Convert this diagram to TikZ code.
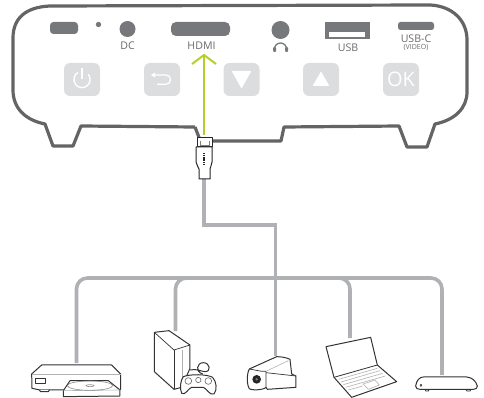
\documentclass[tikz,border=0pt]{standalone}
\usepackage{fontspec}
\setmainfont{Open Sans}
\usetikzlibrary{arrows.meta,calc}
\definecolor{outl}{HTML}{636466}
\definecolor{port}{HTML}{77787B}
\definecolor{btn}{HTML}{DCDDDE}
\definecolor{cable}{HTML}{B0B1B4}
\definecolor{lime}{HTML}{B5CF2A}
\definecolor{lab}{HTML}{6A6B6E}
\tikzset{
  shell/.style={draw=outl,line width=3.2pt,line join=round},
  portshape/.style={fill=port,draw=none},
  btnbox/.style={fill=btn,rounded corners=6pt,draw=none,minimum width=36pt,minimum height=33pt,inner sep=0},
  wire/.style={draw=cable,line width=3.6pt},
  lbl/.style={text=lab,font=\fontsize{10.6}{10.6}\selectfont,inner sep=0},
  ico/.style={draw=black!80,line width=1pt,line join=round,fill=white},
  thin ico/.style={draw=black!30,line width=.6pt},
  zoomA/.style={shift={(20,300)},x=.3333pt,y=-.3333pt},
  zoomB/.style={shift={(240,300)},x=.3333pt,y=-.3333pt},
}
\begin{document}
\begin{tikzpicture}[x=1pt,y=-1pt]
\useasboundingbox (0,0) rectangle (484,398);
% projector shell
\draw[shell] (195,127) -- (81,126) -- (73,146) -- (53,146) -- (45,124)
  .. controls (25,120) and (13,108) .. (13,90) -- (13,38)
  .. controls (13,18) and (26,7) .. (50,6) -- (430,5)
  .. controls (452,6) and (467,20) .. (467,40) -- (467,92)
  .. controls (467,108) and (455,120) .. (435,124) -- (427,147) -- (407,147) -- (399,126) -- (284,127) -- (281,141) -- (212,141);
\draw[shell] (195,127) -- (200,140);
% ports
\fill[portshape,rounded corners=3.5pt] (50,22) rectangle (78,34);
\fill[portshape] (98.5,24.5) circle (2.7);
\fill[portshape] (127.5,29) circle (8);
\fill[portshape,rounded corners=5pt] (171,22) rectangle (230,36);
\fill[portshape] (280.5,30) circle (9);
\fill[portshape] (325,22) rectangle (370,39);
\fill[white] (329,32) rectangle (365,37);
\fill[portshape,rounded corners=2.5pt] (398,22) rectangle (434,30);
% headphone icon
\draw[port,line width=1.3pt] (274.5,49) arc[start angle=180,end angle=360,radius=6];
\fill[port,rounded corners=1pt] (273,47) rectangle (276,52);
\fill[port,rounded corners=1pt] (285,47) rectangle (288,52);
% port labels
\node[lbl] (dc) at (127.5,45.5) {DC};
\node[lbl] (hdmi) at (201.5,45.5) {HDMI};
\node[lbl] (usb) at (348,48) {USB};
\node[lbl] (usbc) at (416,39) {USB-C};
\node[lbl,font=\fontsize{7}{7}\selectfont] (video) at (416,47.5) {(VIDEO)};
% buttons
\node[btnbox] (power) at (82,79.5) {};
\node[btnbox] (back) at (162,79.5) {};
\node[btnbox] (down) at (241.5,79.5) {};
\node[btnbox] (up) at (321,79.5) {};
\node[btnbox] (ok) at (401,79.5) {\textcolor{white}{\fontsize{20}{20}\selectfont OK}};
\draw[white,line width=1.4pt] ($(power)+(6.2,-5.2)$) arc[start angle=-40,delta angle=280,radius=8.1];
\draw[white,line width=1.4pt] ($(power)+(0,-11)$) -- ($(power)+(0,0)$);
\draw[white,line width=1.3pt,line join=round] ($(back)+(-8,-4.5)$) -- ($(back)+(4,-4.5)$) arc[start angle=-90,end angle=90,radius=4.6] -- ($(back)+(-5,4.7)$);
\fill[white] ($(back)+(-11,-4.5)$) -- ($(back)+(-7,-7)$) -- ($(back)+(-7,-2)$) -- cycle;
\fill[white,draw=white,line width=1pt,line join=round] ($(down)+(-9,-8)$) -- ($(down)+(9,-8)$) -- ($(down)+(0,8)$) -- cycle;
\fill[white,draw=white,line width=1pt,line join=round] ($(up)+(-7.5,6)$) -- ($(up)+(7.5,6)$) -- ($(up)+(0,-7)$) -- cycle;
% HDMI plug and cables
\coordinate (plugtop) at (204,135);
\coordinate (plugbot) at (204,179);
\coordinate (elbowA) at (204,225);
\coordinate (elbowB) at (275.5,225);
\coordinate (hub) at (275.5,278);
\coordinate (d1) at (76.5,363);
\coordinate (d2) at (175.5,331);
\coordinate (d3) at (275.5,356);
\coordinate (d4) at (350,338);
\coordinate (d5) at (442,375);
\draw[wire] (plugbot) -- (elbowA) -- (elbowB) -- (hub);
\draw[wire,rounded corners=11pt] (d1) -- (76.5,278) -- (442,278) -- (d5);
\draw[wire,rounded corners=11pt] (d2) -- (175.5,278) -- (350,278) -- (d4);
\draw[wire] (hub) -- (d3);
\draw[lime,line width=2pt] (plugtop) -- (204,55);
\draw[lime,line width=2pt] (192,64) -- (204,55) -- (216,64);
\filldraw[fill=white,draw=black!85,line width=1pt,line join=round] (197.5,138) rectangle (212,147);
\filldraw[fill=white,draw=black!85,line width=1pt,line join=round] (196,147) -- (212,147) -- (212,162) .. controls (212,165) and (210,167) .. (210,169) -- (210,179) -- (199,179) -- (199,169) .. controls (199,167) and (196,165) .. (196,162) -- cycle;
\draw[black!85,line width=1.5pt,dash pattern=on 1.2pt off .6pt] (204,153) -- (204,165);
\fill[black!50] (200,141) rectangle (210,146);
\fill[white] (201,141) rectangle (209,145);
% DVD player
\begin{scope}[zoomA]
\draw[ico] (35,222) -- (65,195) -- (275,195) -- (302,222) -- (302,268) -- (240,270) -- (60,270) -- (36,265) -- cycle;
\draw[thin ico] (35,222) -- (302,222);
\draw[ico,line width=.7pt] (47,236) rectangle (75,250);
\draw[ico] (58,270) -- (62,275) -- (85,275) -- (88,270);
\draw[ico] (150,242) -- (265,242) -- (300,270) -- (300,288) -- (130,290) -- (130,272) -- cycle;
\draw[thin ico] (130,272) -- (300,270);
\draw[draw=black!45,line width=.6pt] (210,257) ellipse (68 and 14);
\draw[draw=black!45,line width=.6pt] (210,257) ellipse (12 and 3);
% Console
\draw[ico] (403,97) -- (447,92) -- (510,135) -- (510,205) -- (485,262) -- (462,268) -- (403,215) -- cycle;
\draw[ico,fill=none,line width=.7pt] (403,97) -- (462,150) -- (510,135);
\draw[ico,fill=none,line width=.8pt] (462,150) -- (462,268);
\draw[draw=black!30,line width=1.5pt] (487,150) -- (487,235);
\draw[ico,fill=none] (510,210) .. controls (530,205) and (545,215) .. (555,215) .. controls (575,215) and (570,188) .. (550,188) .. controls (530,188) and (525,215) .. (548,222);
\draw[ico] (490,230) .. controls (510,222) and (560,222) .. (578,232) .. controls (590,245) and (592,270) .. (582,282) .. controls (570,288) and (560,265) .. (550,262) -- (515,262) .. controls (505,265) and (495,288) .. (485,280) .. controls (478,265) and (482,240) .. (490,230) -- cycle;
\draw[thin ico,draw=black!60] (505,243) circle (10);
\draw[thin ico,draw=black!60] (565,243) circle (10);
\draw[thin ico,draw=black!60] (535,240) circle (8);
\end{scope}
% Camera, laptop, router
\begin{scope}[zoomB]
\draw[ico] (28,207) -- (110,170) .. controls (125,170) and (140,173) .. (150,178) -- (155,222) -- (168,228) -- (168,262) -- (82,268) -- (78,262) .. controls (72,270) and (35,272) .. (28,266) .. controls (20,255) and (20,220) .. (28,207) -- cycle;
\draw[ico,fill=none,line width=.7pt] (28,207) -- (65,214) -- (78,214) -- (78,262);
\draw[thin ico] (78,214) -- (145,182);
\draw[ico,line width=.7pt] (78,218) -- (168,228);
\fill[black!85] (50,238) circle (13);
\fill[black!50] (50,238) circle (4);
% laptop
\draw[ico] (258,140) -- (392,112) -- (412,195) -- (470,245) -- (335,292) -- (282,232) -- cycle;
\draw[ico,fill=none,line width=.8pt] (282,232) -- (412,195);
\draw[thin ico] (296,238) -- (412,205);
\draw[thin ico] (303,246) -- (420,212);
\draw[thin ico] (310,254) -- (428,220);
\draw[thin ico] (317,262) -- (436,228);
\draw[thin ico] (325,270) -- (368,258);
\draw[thin ico] (370,252) -- (405,240) -- (418,255) -- (385,268) -- cycle;
% router
\draw[ico,line width=.9pt] (555,268) -- (558,273) -- (565,273) -- (568,268);
\draw[ico,line width=.9pt] (678,268) -- (681,273) -- (690,273) -- (693,268);
\draw[ico] (527,258) .. controls (530,240) and (538,232) .. (550,231) -- (680,231) .. controls (695,232) and (708,242) .. (712,258) .. controls (712,265) and (708,268) .. (700,268) -- (540,268) .. controls (532,268) and (527,265) .. (527,258) -- cycle;
\draw[ico,line width=.6pt] (543,256) circle (3);
\end{scope}
\end{tikzpicture}
\end{document}
